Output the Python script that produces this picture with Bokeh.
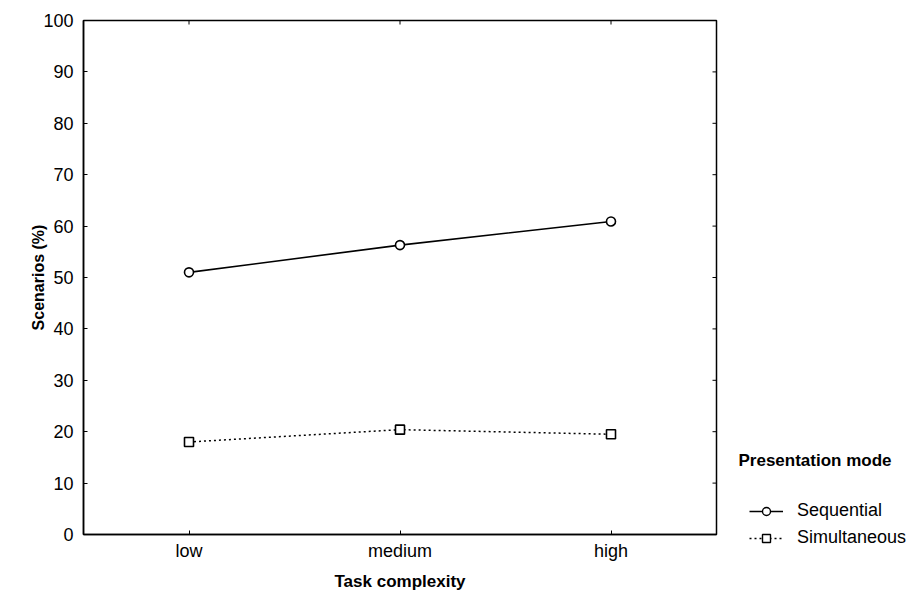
import math
from bokeh.plotting import figure
from bokeh.models import (FactorRange, Range1d, Legend, LegendItem, Label,
                          FixedTicker, ColumnDataSource)
from bokeh.layouts import row
from bokeh.embed import file_html
from bokeh.resources import INLINE

# ---- data ----
complexity = ["low", "medium", "high"]
sequential = [51.0, 56.3, 60.9]
simultaneous = [18.0, 20.4, 19.5]
y_ticks = [0, 10, 20, 30, 40, 50, 60, 70, 80, 90, 100]
series_names = ["Sequential", "Simultaneous"]
legend_title = "Presentation mode"

FONT = "Liberation Sans"

p = figure(width=720, height=594,
           x_range=FactorRange(*complexity), y_range=Range1d(y_ticks[0], y_ticks[-1]),
           output_backend="svg", toolbar_location=None,
           min_border_left=83, min_border_right=4,
           min_border_top=20, min_border_bottom=60)
p.frame_align = False

p.background_fill_color = "white"
p.border_fill_color = "white"
p.outline_line_color = "black"
p.outline_line_width = 1.5
p.xgrid.visible = False
p.ygrid.visible = False

for ax in (p.xaxis[0], p.yaxis[0]):
    ax.axis_line_color = "black"
    ax.axis_line_width = 1.5
    ax.major_tick_in = 4
    ax.major_tick_out = 0
    ax.major_tick_line_color = "black"
    ax.minor_tick_line_color = None
    ax.major_label_text_font = FONT
    ax.major_label_text_font_size = "18px"
    ax.major_label_text_color = "black"
    ax.axis_label_text_font = FONT
    ax.axis_label_text_font_style = "bold"
    ax.axis_label_text_color = "black"

p.yaxis.ticker = FixedTicker(ticks=y_ticks)
p.yaxis.axis_label = "Scenarios (%)"
p.yaxis.axis_label_text_font_size = "16px"
p.yaxis.major_label_standoff = 10
p.yaxis.axis_label_standoff = -7
p.xaxis.axis_label = "Task complexity"
p.xaxis.axis_label_text_font_size = "17px"
p.xaxis.major_label_standoff = 6
p.xaxis.axis_label_standoff = 8

# inward ticks mirrored on right and top edges (clipped to the frame)
p.scatter(x=[(complexity[-1], 0.5)] * len(y_ticks), y=y_ticks, marker="dash",
          size=8, line_color="black", line_width=1)
p.scatter(x=complexity, y=[y_ticks[-1]] * len(complexity), marker="dash",
          angle=math.pi / 2, size=8, line_color="black", line_width=1)

src = ColumnDataSource(dict(x=complexity, seq=sequential, sim=simultaneous))
SEQ_LINE = dict(line_color="black", line_width=1.6)
SIM_LINE = dict(line_color="black", line_width=1.5, line_dash="2 3")
MARK = dict(size=9, fill_color="white", line_color="black", line_width=1.6)

p.line("x", "seq", source=src, **SEQ_LINE)
p.scatter("x", "seq", source=src, marker="circle", **MARK)
p.line("x", "sim", source=src, **SIM_LINE)
p.scatter("x", "sim", source=src, marker="square", **MARK)

# ---- legend panel ----
LW, LH = 189, 594
lf = figure(width=LW, height=LH, x_range=Range1d(0, LW), y_range=Range1d(LH, 0),
            output_backend="svg", toolbar_location=None,
            x_axis_location=None, y_axis_location=None,
            min_border_left=0, min_border_right=0,
            min_border_top=0, min_border_bottom=0)
lf.frame_align = False
lf.outline_line_color = None
lf.xgrid.visible = False
lf.ygrid.visible = False
lf.background_fill_color = "white"
lf.border_fill_color = "white"

# proxy renderers (hidden) that only supply the legend's glyph styles
lsrc = ColumnDataSource(dict(x=[0], y=[0]))
l1 = lf.line("x", "y", source=lsrc, visible=False, **SEQ_LINE)
m1 = lf.scatter("x", "y", source=lsrc, marker="circle", size=8, fill_color="white",
                line_color="black", line_width=1.4, visible=False)
l2 = lf.line("x", "y", source=lsrc, visible=False, **SIM_LINE)
m2 = lf.scatter("x", "y", source=lsrc, marker="square", size=8, fill_color="white",
                line_color="black", line_width=1.4, visible=False)

legend = Legend(items=[LegendItem(label=series_names[0], renderers=[l1, m1]),
                       LegendItem(label=series_names[1], renderers=[l2, m2])],
                location=(29, 46), orientation="vertical",
                glyph_width=34, glyph_height=20, label_height=20, spacing=6,
                label_standoff=14, padding=0, margin=0,
                border_line_color=None, background_fill_alpha=0,
                inactive_fill_alpha=0,
                label_text_font=FONT, label_text_font_size="18px",
                label_text_color="black", label_text_baseline="middle")
lf.add_layout(legend)

title = Label(x=18, y=460, text=legend_title, text_font=FONT,
              text_font_size="17px", text_font_style="bold",
              text_baseline="middle", text_color="black")
lf.add_layout(title)

layout = row(p, lf)
open("out.html", "w").write(file_html(layout, INLINE))
